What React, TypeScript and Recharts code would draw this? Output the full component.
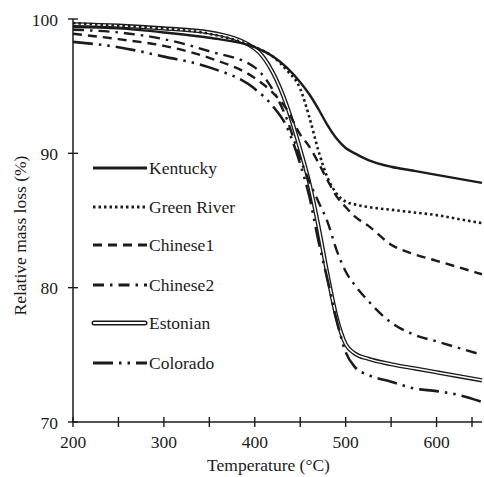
import { LineChart, Line, XAxis, YAxis, Label } from "recharts";

// temperature grid (°C) shared by all six shale samples
const temperatures = [200, 250, 300, 350, 400, 420, 435, 450, 460, 470, 480, 490, 500, 510, 525, 550, 575, 600, 625, 650];

// relative mass (%) at each temperature
const kentucky = [99.4, 99.3, 99.0, 98.6, 97.9, 97.2, 96.4, 95.3, 94.4, 93.3, 92.1, 91.1, 90.4, 90.0, 89.5, 89.0, 88.7, 88.4, 88.1, 87.8];
const greenRiver = [99.7, 99.5, 99.3, 98.9, 97.9, 97.2, 96.2, 94.8, 92.7, 90.2, 88.2, 87.0, 86.4, 86.2, 86.0, 85.8, 85.6, 85.4, 85.1, 84.8];
const chinese1 = [98.9, 98.5, 98.0, 97.1, 95.6, 94.5, 93.3, 91.4, 90.5, 89.3, 88.0, 86.8, 86.0, 85.3, 84.6, 83.2, 82.5, 82.0, 81.5, 81.0];
const chinese2 = [99.2, 99.0, 98.5, 97.6, 96.4, 94.7, 92.6, 89.6, 87.9, 86.4, 84.9, 82.8, 81.2, 80.2, 79.0, 77.4, 76.5, 76.0, 75.5, 75.0];
const estonian = [99.6, 99.5, 99.3, 99.0, 97.8, 96.0, 93.6, 90.3, 87.8, 84.6, 81.0, 77.8, 75.8, 75.1, 74.7, 74.3, 74.0, 73.7, 73.4, 73.1];
const colorado = [98.3, 97.9, 97.2, 96.4, 94.8, 93.5, 92.0, 89.2, 86.8, 83.5, 80.6, 77.6, 75.2, 74.1, 73.5, 73.0, 72.5, 72.3, 72.0, 71.5];

const xTicks = [200, 250, 300, 350, 400, 450, 500, 550, 600, 650];
const yTicks = [70, 80, 90, 100];

const ink = "#1b1b1b";
const textStyle = { fontFamily: "'Liberation Serif', 'Times New Roman', serif", fontSize: 17.5 };

const data = temperatures.map((t, i) => ({
  t,
  kentucky: kentucky[i],
  greenRiver: greenRiver[i],
  chinese1: chinese1[i],
  chinese2: chinese2[i],
  estonian: estonian[i],
  colorado: colorado[i],
}));

const series = [
  { key: "kentucky", name: "Kentucky", dash: undefined, width: 2.4, y: 168 },
  { key: "greenRiver", name: "Green River", dash: "2.5 3", width: 2.6, y: 207 },
  { key: "chinese1", name: "Chinese1", dash: "9 6", width: 2.4, y: 245 },
  { key: "chinese2", name: "Chinese2", dash: "11 6 2.5 6", width: 2.4, y: 285 },
  { key: "estonian", name: "Estonian", dash: undefined, width: 4.2, y: 323 },
  { key: "colorado", name: "Colorado", dash: "20 6 2.5 6 2.5 6", width: 2.6, y: 363 },
];

// ticks cross the axis line; labels only every 100 °C
const XTick = (props: any) => {
  const { x, y, payload } = props;
  return (
    <g>
      <line x1={x} x2={x} y1={y - 10} y2={y} stroke={ink} strokeWidth={1.4} />
      {payload.value % 100 === 0 && (
        <text x={x} y={y + 21} textAnchor="middle" fill={ink} style={textStyle}>
          {payload.value}
        </text>
      )}
    </g>
  );
};

const YTick = (props: any) => {
  const { x, y, payload } = props;
  return (
    <g>
      <line x1={x} x2={x + 10} y1={y} y2={y} stroke={ink} strokeWidth={1.4} />
      <text x={x - 10} y={y + 6.5} textAnchor="end" fill={ink} style={textStyle}>
        {payload.value}
      </text>
    </g>
  );
};

const LegendSample = ({ s }: { s: (typeof series)[number] }) => {
  if (s.key === "estonian") {
    return (
      <g>
        <line x1={94} x2={145} y1={s.y} y2={s.y} stroke={ink} strokeWidth={5} strokeLinecap="round" />
        <line x1={94} x2={145} y1={s.y} y2={s.y} stroke="#fff" strokeWidth={2} strokeLinecap="round" />
      </g>
    );
  }
  return (
    <line x1={93} x2={147} y1={s.y} y2={s.y} stroke={ink} strokeWidth={s.width + 0.4} strokeDasharray={s.dash} />
  );
};

export default function App() {
  return (
    <div style={{ position: "absolute", left: 0, top: 0, width: 484, height: 477, background: "#fff" }}>
      <LineChart width={484} height={477} data={data} margin={{ top: 19, right: 2, left: 0, bottom: 0 }}>
        <XAxis
          dataKey="t"
          type="number"
          domain={[200, 650]}
          ticks={xTicks}
          height={55}
          tickSize={5}
          tickMargin={0}
          tickLine={false}
          tick={<XTick />}
          axisLine={{ stroke: ink, strokeWidth: 1.5 }}
        >
          <Label
            content={({ viewBox }: any) => (
              <text
                x={viewBox.x + viewBox.width / 2 - 9}
                y={viewBox.y + 49}
                textAnchor="middle"
                fill={ink}
                style={textStyle}
              >
                Temperature (°C)
              </text>
            )}
          />
        </XAxis>
        <YAxis
          type="number"
          domain={[70, 100]}
          ticks={yTicks}
          width={73}
          tickSize={5}
          tickMargin={0}
          tickLine={false}
          tick={<YTick />}
          axisLine={{ stroke: ink, strokeWidth: 1.5 }}
        >
          <Label
            content={({ viewBox }: any) => (
              <text
                transform={`translate(${viewBox.x + 26}, ${viewBox.y + viewBox.height / 2 + 15}) rotate(-90)`}
                textAnchor="middle"
                fill={ink}
                style={textStyle}
              >
                Relative mass loss (%)
              </text>
            )}
          />
        </YAxis>
        {/* Estonian is a hollow double line: thick dark stroke with a white core */}
        <Line type="monotone" dataKey="estonian" stroke={ink} strokeWidth={4.2} dot={false} activeDot={false} isAnimationActive={false} />
        <Line type="monotone" dataKey="estonian" stroke="#fff" strokeWidth={1.5} dot={false} activeDot={false} isAnimationActive={false} />
        {series
          .filter((s) => s.key !== "estonian")
          .map((s) => (
            <Line
              key={s.key}
              type="monotone"
              dataKey={s.key}
              stroke={ink}
              strokeWidth={s.width}
              strokeDasharray={s.dash}
              dot={false}
              activeDot={false}
              isAnimationActive={false}
            />
          ))}
      </LineChart>
      <svg width={484} height={477} style={{ position: "absolute", left: 0, top: 0, pointerEvents: "none" }}>
        {series.map((s) => (
          <g key={s.key}>
            <LegendSample s={s} />
            <text x={149} y={s.y + 6} fill={ink} style={textStyle}>
              {s.name}
            </text>
          </g>
        ))}
      </svg>
    </div>
  );
}
